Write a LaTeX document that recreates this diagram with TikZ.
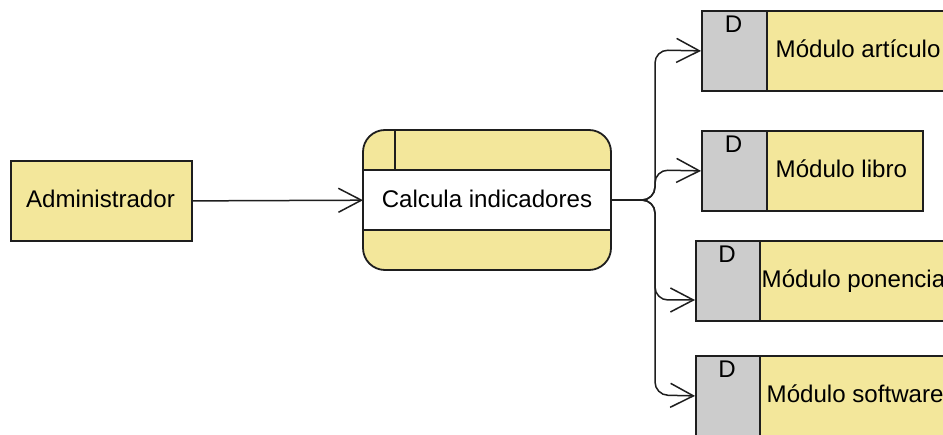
\documentclass[tikz,border=0pt]{standalone}
\usepackage{fontspec}
\setmainfont{Liberation Sans}
\usetikzlibrary{arrows.meta}
\definecolor{yel}{HTML}{F3E79B}
\definecolor{gry}{HTML}{CCCCCC}
\definecolor{ln}{HTML}{1E1E1E}
\tikzset{
  lbl/.style={font=\fontsize{24.1}{29}\selectfont, text=black, inner sep=0pt},
  boxline/.style={draw=ln, line width=1.8pt},
  yelbox/.style={boxline, fill=yel, anchor=north west, inner sep=0pt, minimum height=80pt},
  grybox/.style={boxline, fill=gry, anchor=north west, inner sep=0pt, minimum height=80pt},
  flow/.style={draw=ln, line width=1.5pt, rounded corners=13pt, -{Straight Barb[length=23pt,width=24pt]}},
}
\begin{document}
\begin{tikzpicture}[x=1pt,y=-1pt]
\useasboundingbox (0,0) rectangle (943,435);
\fill[white] (0,0) rectangle (943,435);
\clip (0,0) rectangle (943,435);

% external entity
\node[yelbox, minimum width=181pt] (adm) at (10,160) {};
\node[lbl, anchor=base] (admt) at (100.5,208) {Administrador};

% process
\node[fill=yel, anchor=north west, inner sep=0pt, minimum width=248pt, minimum height=140pt, rounded corners=22pt] (proc) at (363,130) {};
\fill[white] (363,170) rectangle (611,230);
\draw[boxline] (363,170) -- (611,170);
\draw[boxline] (363,230) -- (611,230);
\draw[boxline] (395,130) -- (395,170);
\draw[boxline, rounded corners=22pt] (363,130) rectangle (611,270);
\node[lbl, anchor=base] (proct) at (487,208) {Calcula indicadores};

% data stores
\node[yelbox, minimum width=249pt] (s1) at (701,10) {};
\node[grybox, minimum width=65pt] (s1g) at (701,10) {};
\node[lbl, anchor=base] (s1d) at (733.5,33) {D};
\node[lbl, anchor=base west] (s1t) at (775.5,58) {Módulo artículo};

\node[yelbox, minimum width=221pt] (s2) at (701,130) {};
\node[grybox, minimum width=65pt] (s2g) at (701,130) {};
\node[lbl, anchor=base] (s2d) at (733.5,153) {D};
\node[lbl, anchor=base west] (s2t) at (775.5,178) {Módulo libro};

\node[yelbox, minimum width=256pt] (s3) at (695,240) {};
\node[grybox, minimum width=64pt] (s3g) at (695,240) {};
\node[lbl, anchor=base] (s3d) at (727,263) {D};
\node[lbl, anchor=base west] (s3t) at (761.5,288) {Módulo ponencia};

\node[yelbox, minimum width=258pt] (s4) at (695,355) {};
\node[grybox, minimum width=64pt] (s4g) at (695,355) {};
\node[lbl, anchor=base] (s4d) at (727,378) {D};
\node[lbl, anchor=base west] (s4t) at (766.5,403) {Módulo software};

% connectors
\coordinate (s3in) at (695,300);
\draw[flow] (adm.east) -- (proc.west);
\draw[flow] (proc.east) -- (655,200) -- (655,50) -- (s1.west);
\draw[flow] (proc.east) -- (655,200) -- (655,170) -- (s2.west);
\draw[flow] (proc.east) -- (655,200) -- (655,300) -- (s3in);
\draw[flow] (proc.east) -- (655,200) -- (655,395) -- (s4.west);
\end{tikzpicture}
\end{document}
